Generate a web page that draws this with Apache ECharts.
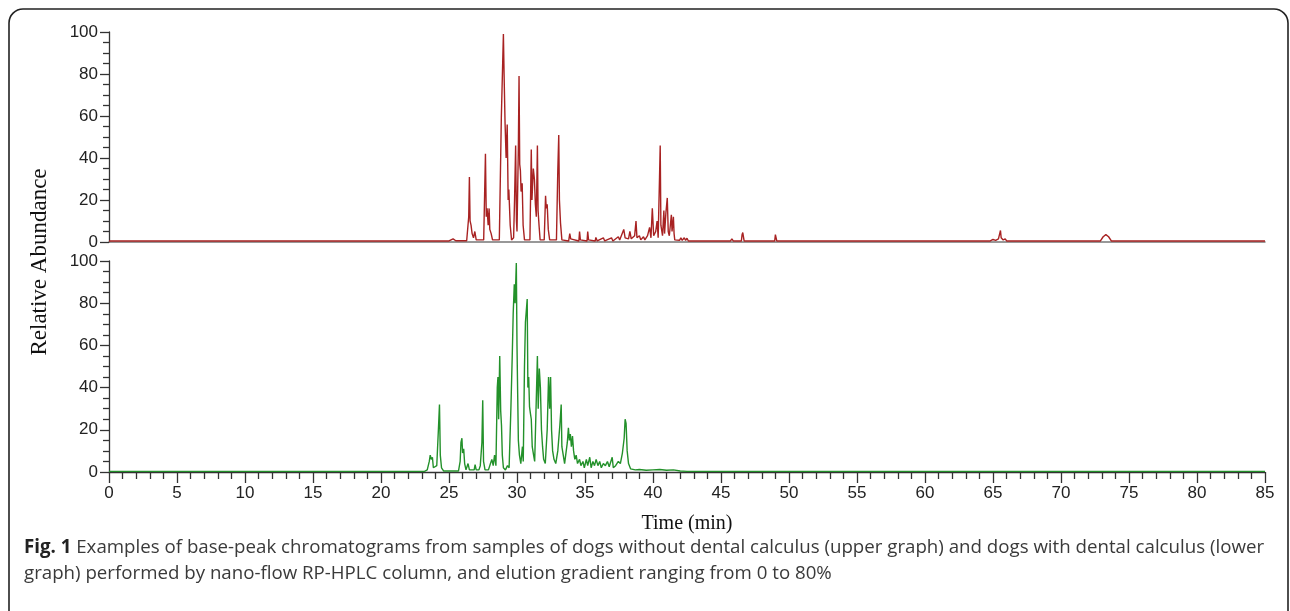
<!DOCTYPE html>
<html>
<head>
<meta charset="utf-8">
<script src="https://cdn.jsdelivr.net/npm/echarts@6/dist/echarts.min.js"></script>
<style>
html,body{margin:0;padding:0;background:#fff;}
#c{width:1290px;height:611px;}
</style>
</head>
<body>
<div id="c"></div>
<script>
// ---- data: [time (min), relative abundance] ----
var xTicks = [0,5,10,15,20,25,30,35,40,45,50,55,60,65,70,75,80,85];
var yTicks = [0,20,40,60,80,100];

var upperSeries = [
[0,0.5],[25.0,0.5],[25.1,1.2],[25.3,1.5],[25.5,0.6],
[26.3,0.6],[26.45,12],[26.5,31],[26.55,10],[26.62,8],[26.7,4],[26.8,2],[26.9,5],[27.0,1],
[27.55,1],[27.62,23],[27.68,42],[27.74,12],[27.8,16],[27.88,8],[27.95,16],[28.0,6],[28.1,4],[28.2,1],
[28.7,1],[28.85,60],[28.95,86],[29.0,99],[29.05,80],[29.12,57],[29.2,40],[29.28,56],[29.35,20],[29.4,25],[29.5,8],[29.6,1],
[29.75,2],[29.82,20],[29.9,46],[29.96,10],[30.0,5],[30.1,45],[30.15,79],[30.2,37],[30.25,34],[30.3,24],[30.38,28],[30.45,8],[30.55,1],
[30.95,1],[31.05,44],[31.1,20],[31.2,35],[31.28,30],[31.35,18],[31.42,12],[31.5,46],[31.55,15],[31.62,8],[31.7,1],
[32.0,1],[32.1,22],[32.15,16],[32.22,18],[32.3,6],[32.4,1],
[32.9,1],[33.0,34],[33.07,51],[33.12,20],[33.2,9],[33.3,1],
[33.8,0.5],[33.88,4],[33.95,1.5],[34.55,0.5],[34.6,5],[34.66,1],[35.15,0.5],[35.2,5],[35.26,1],
[35.75,0.5],[35.8,2.2],[35.9,0.5],[36.35,2],[36.45,0.5],[36.95,2],[37.05,0.5],[37.45,2.5],[37.55,1],
[37.85,6],[37.95,2],[38.2,1.5],[38.3,5],[38.4,1.5],[38.65,3],[38.75,10],[38.82,2],[39.0,3],[39.1,1],
[39.3,2.5],[39.4,1],[39.6,3],[39.75,7],[39.85,2],[39.95,16],[40.05,3],[40.2,5],[40.3,10],[40.38,2],
[40.48,31],[40.53,46],[40.58,8],[40.7,3],[40.8,15],[40.85,4],[40.95,14],[41.05,21],[41.12,5],[41.2,3],
[41.35,13],[41.4,5],[41.5,12],[41.55,4],[41.6,1],
[41.95,0.8],[42.05,2],[42.15,0.8],[42.3,2],[42.4,0.8],[42.5,1.8],[42.6,0.5],
[44.5,0.5],[44.6,1.2],[44.7,0.5],[45.7,0.5],[45.8,1.5],[45.9,0.5],[46.5,0.5],[46.55,3.5],[46.6,4.5],[46.7,0.5],
[48.95,0.5],[49.0,3.5],[49.1,0.5],
[64.8,0.5],[65.0,1.2],[65.2,0.8],[65.4,1.5],[65.5,2],[65.55,5.5],[65.6,2],[65.75,1],[65.9,1.5],[66.0,0.5],
[72.9,0.5],[73.1,2.5],[73.3,3.5],[73.5,2.5],[73.7,0.5],[85,0.5]
];

var lowerSeries = [
[0,0.3],[21.9,0.3],[22.0,1],[22.1,0.3],[23.2,0.3],[23.4,1],[23.55,5],[23.62,8],[23.7,6],[23.78,7],[23.85,2],
[24.1,3],[24.22,20],[24.3,32],[24.36,8],[24.45,2],[24.6,0.5],
[25.7,0.5],[25.82,5],[25.88,14],[25.95,16],[26.0,9],[26.08,11],[26.15,4],[26.25,1],[26.4,4],[26.5,1],
[26.85,1],[26.92,3.5],[27.0,1],[27.2,1],[27.3,3],[27.42,14],[27.48,34],[27.54,5],[27.65,1],[27.9,1],
[28.05,4],[28.15,6],[28.25,3],[28.35,8],[28.45,3],[28.55,40],[28.6,45],[28.65,25],[28.73,55],[28.8,29],[28.86,22],[28.92,8],[29.0,2],[29.15,1],[29.3,3],[29.42,2],
[29.55,30],[29.65,55],[29.72,75],[29.8,89],[29.86,80],[29.95,99],[30.0,60],[30.05,37],[30.1,15],[30.18,8],[30.28,4],[30.4,12],[30.46,5],
[30.55,50],[30.62,71],[30.75,82],[30.8,40],[30.86,45],[30.92,31],[30.98,28],[31.05,25],[31.12,12],[31.22,8],[31.3,5],
[31.42,35],[31.5,55],[31.56,30],[31.64,49],[31.72,40],[31.8,20],[31.88,12],[31.96,6],[32.08,4],
[32.22,20],[32.32,45],[32.4,30],[32.47,45],[32.54,20],[32.62,10],[32.72,6],[32.85,4],
[33.0,10],[33.15,22],[33.25,32],[33.3,12],[33.4,8],[33.5,4],
[33.7,14],[33.78,21],[33.85,15],[33.92,18],[34.0,12],[34.08,17],[34.16,10],[34.25,6],[34.35,8],[34.45,4],
[34.6,6],[34.7,3],[34.85,5],[34.95,2],[35.1,6],[35.2,3],[35.35,7],[35.45,2],[35.58,5],[35.7,3],[35.82,6],
[35.95,3],[36.08,5],[36.2,2],[36.35,4],[36.5,3],[36.65,5],[36.78,2.5],[36.9,3],[37.0,7],[37.08,2],
[37.25,3],[37.45,5],[37.6,4],[37.75,9],[37.88,16],[37.95,25],[38.02,23],[38.1,10],[38.2,4],[38.35,1.5],
[38.7,1],[39.0,1.2],[39.5,0.8],[40.0,1],[40.5,1.2],[41.0,0.8],[41.5,1],[42.0,0.5],[42.5,0.3],[85,0.3]
];

var yTitle = 'Relative Abundance';
var xTitle = 'Time (min)';
var captionLines = [
  ['Fig. 1', ' Examples of base-peak chromatograms from samples of dogs without dental calculus (upper graph) and dogs with dental calculus (lower'],
  ['', 'graph) performed by nano-flow RP-HPLC column, and elution gradient ranging from 0 to 80%']
];

var chart = echarts.init(document.getElementById('c'), null, {renderer:'canvas'});
var axisColor = '#333';
var labelFont = {color:'#222', fontFamily:'Liberation Sans, Arial, sans-serif', fontSize:17};

function yAxisCfg(gi){
  return {
    type:'value', gridIndex:gi, min:yTicks[0], max:yTicks[yTicks.length-1], interval:20,
    axisLine:{show:true, lineStyle:{color:axisColor, width:1.3}},
    axisTick:{show:true, length:9, lineStyle:{color:axisColor, width:1.3}},
    minorTick:{show:true, splitNumber:4, length:6, lineStyle:{color:axisColor, width:1.3}},
    axisLabel:Object.assign({margin:11}, labelFont),
    splitLine:{show:false}
  };
}

var option = {
  animation:false,
  backgroundColor:'#fff',
  grid:[
    {left:109, top:32, width:1156, height:210},
    {left:109, top:261, width:1156, height:211}
  ],
  xAxis:[
    {type:'value', gridIndex:0, min:0, max:85, interval:5,
     axisLine:{show:true, onZero:false, lineStyle:{color:'#777', width:1.5}},
     axisTick:{show:false}, axisLabel:{show:false}, splitLine:{show:false}},
    {type:'value', gridIndex:1, min:0, max:85, interval:5,
     axisLine:{show:true, onZero:false, lineStyle:{color:axisColor, width:1.3}},
     axisTick:{show:true, length:11, lineStyle:{color:axisColor, width:1.3}},
     minorTick:{show:true, splitNumber:5, length:7, lineStyle:{color:axisColor, width:1.3}},
     axisLabel:Object.assign({margin:13, showMaxLabel:true, showMinLabel:true}, labelFont),
     splitLine:{show:false}}
  ],
  yAxis:[yAxisCfg(0), yAxisCfg(1)],
  series:[
    {type:'line', xAxisIndex:0, yAxisIndex:0, data:upperSeries, showSymbol:false, z:5,
     lineStyle:{color:'#a82222', width:1.4}},
    {type:'line', xAxisIndex:1, yAxisIndex:1, data:lowerSeries, showSymbol:false, z:5,
     lineStyle:{color:'#23912a', width:1.4}}
  ],
  graphic:[
    {type:'rect', shape:{x:9, y:9, width:1279, height:640, r:14}, style:{fill:'none', stroke:'#222', lineWidth:1.6}, z:-1},
    {type:'text', x:40, y:262, rotation:Math.PI/2,
     style:{text:yTitle, font:'23px "Liberation Serif", "Times New Roman", serif', fill:'#111', textAlign:'center', textVerticalAlign:'middle'}},
    {type:'text', x:687, y:524,
     style:{text:xTitle, font:'20px "Liberation Serif", "Times New Roman", serif', fill:'#111', textAlign:'center', textVerticalAlign:'middle'}},
    {type:'text', x:24, y:548,
     style:{text:'{b|'+captionLines[0][0]+'}{n|'+captionLines[0][1]+'}', textVerticalAlign:'middle',
       rich:{b:{font:'bold 18.7px "Open Sans", sans-serif', fill:'#222'}, n:{font:'18.7px "Open Sans", sans-serif', fill:'#3a3a3a'}}}},
    {type:'text', x:24, y:574,
     style:{text:captionLines[1][1], font:'18.7px "Open Sans", sans-serif', fill:'#3a3a3a', textVerticalAlign:'middle'}}
  ]
};
chart.setOption(option);
</script>
</body>
</html>
